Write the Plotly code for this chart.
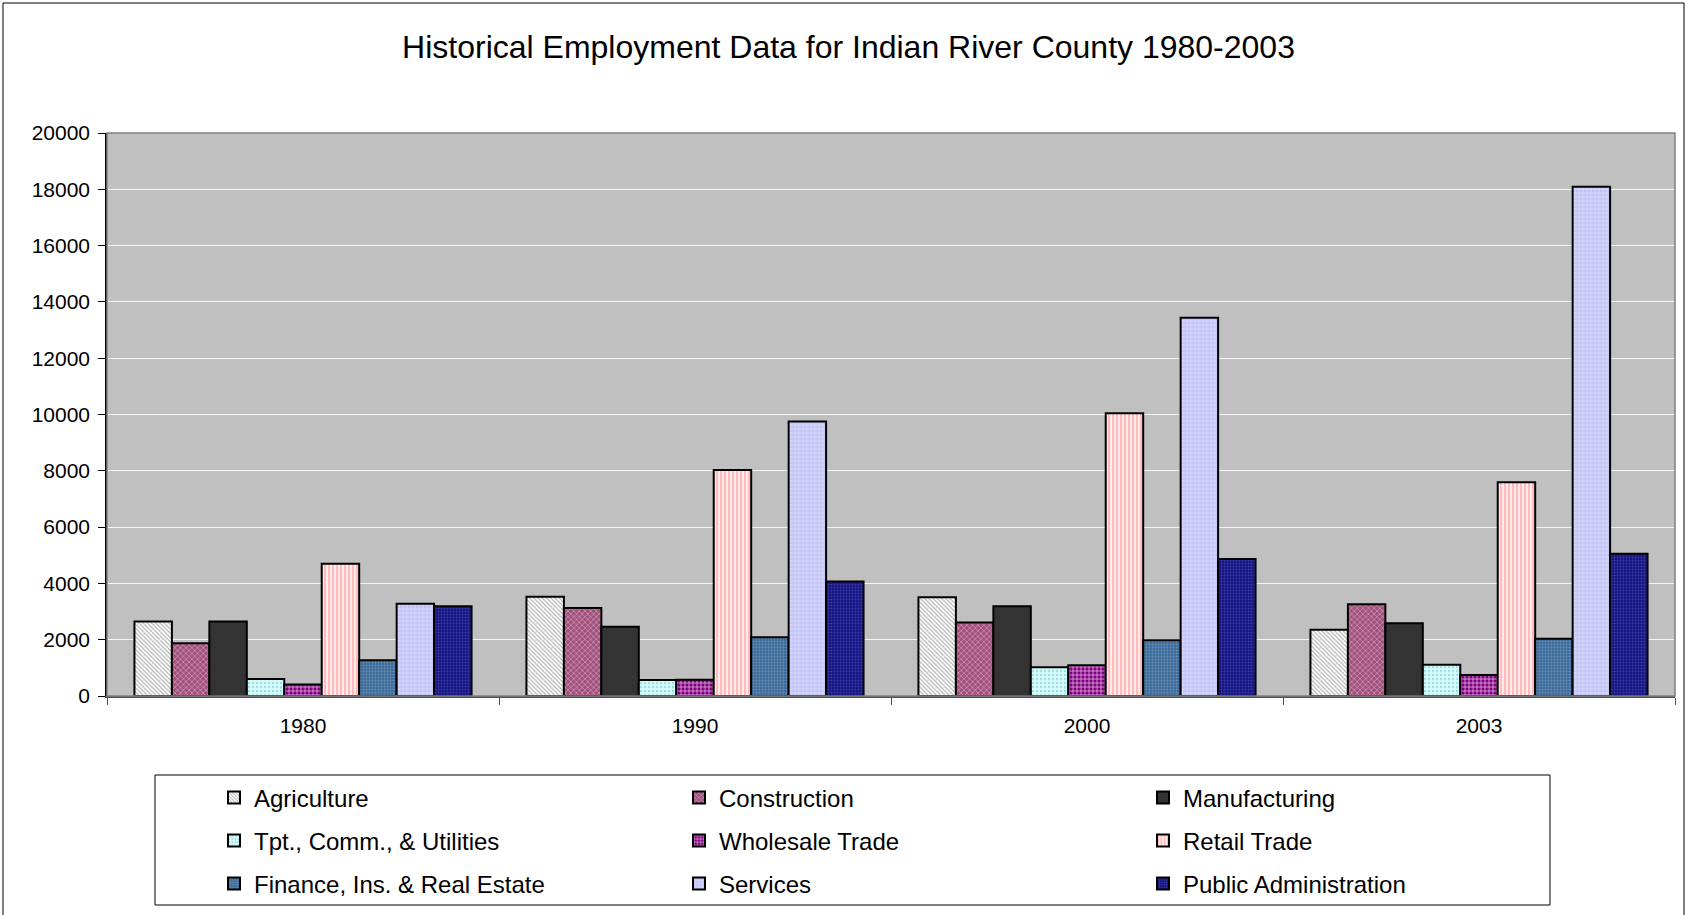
import plotly.graph_objects as go

# ---- data ----
years = ["1980", "1990", "2000", "2003"]
agriculture = [2650, 3530, 3510, 2350]
construction = [1870, 3130, 2610, 3260]
manufacturing = [2650, 2460, 3190, 2580]
tpt_comm_util = [600, 570, 1020, 1110]
wholesale = [410, 580, 1090, 750]
retail = [4700, 8030, 10040, 7590]
finance = [1270, 2090, 1980, 2030]
services = [3280, 9750, 13440, 18090]
public_admin = [3190, 4070, 4870, 5050]

series_names = [
    "Agriculture", "Construction", "Manufacturing",
    "Tpt., Comm., & Utilities", "Wholesale Trade", "Retail Trade",
    "Finance, Ins. & Real Estate", "Services", "Public Administration",
]
series_values = [agriculture, construction, manufacturing, tpt_comm_util,
                 wholesale, retail, finance, services, public_admin]

title_text = "Historical Employment Data for Indian River County 1980-2003"

# ---- styles ----
styles = [
    dict(bg="#ffffff", fg="#b4b4b4", shape="\\", size=3, sol=0.4),
    dict(bg="#a0527c", fg="#d6a0bf", shape="x", size=4, sol=0.3),
    dict(bg="#333333", fg="#333333", shape="", size=4, sol=0.3),
    dict(bg="#d4fbfb", fg="#a9dede", shape=".", size=4, sol=0.3),
    dict(bg="#800080", fg="#f0d0f0", shape="+", size=4, sol=0.3),
    dict(bg="#ffeaea", fg="#ffb0b0", shape="|", size=4, sol=0.4),
    dict(bg="#3a6c9c", fg="#7090b0", shape=".", size=3, sol=0.3),
    dict(bg="#d2d2fc", fg="#b4b4e6", shape="+", size=4, sol=0.25),
    dict(bg="#15157f", fg="#3c3cac", shape=".", size=3, sol=0.3),
]

W, H = 1697, 915
L, R, T, B = 107, 22, 133, 219
PW, PH = W - L - R, H - T - B


def px(x):
    return (x - L) / PW


def py(y):
    return (H - B - y) / PH


FONT = "Liberation Sans, Arial, sans-serif"

legend_cols_x = [214, 679, 1143]
legend_rows_y = [798, 841, 884]

fig = go.Figure()
legend_layouts = {}
for i, (name, vals, st) in enumerate(zip(series_names, series_values, styles)):
    lid = "legend" if i == 0 else "legend%d" % (i + 1)
    fig.add_trace(go.Bar(
        x=years, y=vals, name=name,
        legend=lid, showlegend=True,
        marker=dict(
            color=st["bg"],
            line=dict(color="black", width=2),
            pattern=dict(shape=st["shape"], fgcolor=st["fg"], bgcolor=st["bg"],
                         size=st["size"], solidity=st["sol"], fillmode="replace"),
        ),
    ))
    legend_layouts[lid] = dict(
        orientation="v",
        font=dict(family=FONT, size=24, color="black"),
        bgcolor="rgba(0,0,0,0)", borderwidth=0,
        x=px(legend_cols_x[i % 3]), xanchor="left",
        y=py(legend_rows_y[i // 3]), yanchor="middle",
    )

fig.update_layout(
    width=W, height=H,
    showlegend=True,
    margin=dict(l=L, r=R, t=T, b=B, pad=0, autoexpand=False),
    paper_bgcolor="white",
    plot_bgcolor="#c0c0c0",
    barmode="group", bargap=0.14, bargroupgap=0,
    title=dict(text=title_text, x=0.5, xanchor="center", xref="container",
               y=1 - 47 / H, yanchor="middle", yref="container",
               font=dict(family=FONT, size=32, color="black")),
    font=dict(family=FONT, color="black"),
    xaxis=dict(
        type="category", showline=True, linecolor="#505050", linewidth=1.5,
        ticks="outside", tickson="boundaries", ticklen=7, tickcolor="#505050",
        tickfont=dict(family=FONT, size=21, color="black"),
        ticklabelstandoff=10, showgrid=False, zeroline=False,
    ),
    yaxis=dict(
        range=[0, 20000], dtick=2000, tickformat="d",
        showline=True, linecolor="black", linewidth=1.5,
        ticks="outside", ticklen=7, tickcolor="black",
        tickfont=dict(family=FONT, size=21, color="black"),
        ticklabelstandoff=4,
        showgrid=True, gridcolor="#f4f4f4", gridwidth=1, zeroline=False,
    ),
    shapes=[
        dict(type="rect", xref="paper", yref="paper", x0=0, x1=1, y0=0, y1=1,
             line=dict(color="#808080", width=1.5), layer="above"),
        dict(type="rect", xref="paper", yref="paper", x0=px(155), x1=px(1550),
             y0=py(775), y1=py(905), line=dict(color="black", width=1)),
        dict(type="rect", xref="paper", yref="paper", x0=px(3), x1=px(1684),
             y0=py(3), y1=py(940), line=dict(color="black", width=1)),
    ],
    **legend_layouts,
)

fig.write_html(
    "out.html",
    config={"displayModeBar": False},
    post_script="document.body.style.margin='0';document.body.style.overflow='hidden';",
)
